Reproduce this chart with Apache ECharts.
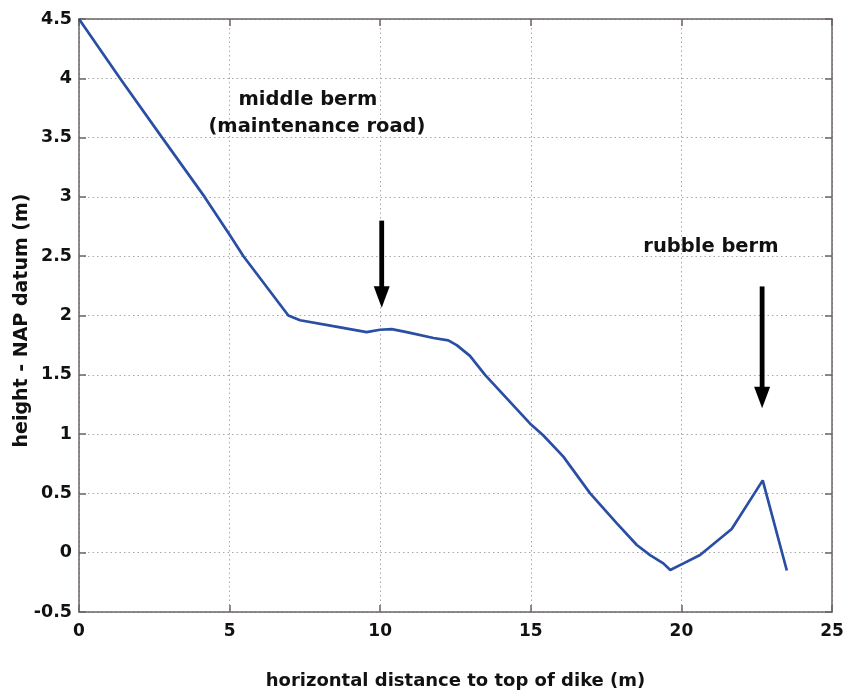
<!DOCTYPE html>
<html>
<head>
<meta charset="utf-8">
<script src="https://cdn.jsdelivr.net/npm/echarts@6/dist/echarts.min.js"></script>
<style>
  html, body { margin: 0; padding: 0; background: #fff; }
  #chart { width: 855px; height: 692px; }
</style>
</head>
<body>
<div id="chart"></div>
<script>
// Dike cross-section profile: horizontal distance (m) vs. height above NAP (m)
const distance = [0, 1.36, 2.76, 4.17, 5.0, 5.46, 6.95, 7.34, 8.44, 9.55, 9.99, 10.38, 10.88, 11.77, 12.26, 12.54, 12.98, 13.48, 14.97, 15.41, 16.08, 16.97, 17.85, 18.52, 18.96, 19.4, 19.63, 20.07, 20.62, 21.67, 22.7, 23.5];
const height = [4.5, 4.0, 3.5, 3.0, 2.68, 2.5, 2.0, 1.96, 1.91, 1.86, 1.88, 1.885, 1.86, 1.81, 1.79, 1.75, 1.66, 1.5, 1.09, 0.99, 0.81, 0.5, 0.25, 0.065, -0.02, -0.09, -0.146, -0.09, -0.02, 0.2, 0.61, -0.15];

const xTicks = [0, 5, 10, 15, 20, 25];
const yTicks = [-0.5, 0, 0.5, 1, 1.5, 2, 2.5, 3, 3.5, 4, 4.5];

// Annotation arrows pointing down at the berms: [x, yTail, yTip]
const arrowX = [10.05, 22.68];
const arrowTail = [2.80, 2.245];
const arrowTip = [2.065, 1.219];

// Annotation texts and their anchor positions (data coordinates)
const notes = ['middle berm', '(maintenance road)', 'rubble berm'];
const noteX = [7.60, 7.90, 20.98];
const noteY = [3.82, 3.59, 2.58];

const font = '"DejaVu Sans", Arial, sans-serif';
const axisColor = '#6e6464';
const gridStyle = { color: '#a8a8a8', type: [1.5, 3], width: 1 };

const profile = distance.map((d, i) => [d, height[i]]);
const arrowData = arrowX.map((x, i) => [x, arrowTail[i], arrowTip[i]]);

const chart = echarts.init(document.getElementById('chart'), null, { renderer: 'canvas' });

const boxAxis = {
  axisLine: { show: true, onZero: false, lineStyle: { color: axisColor, width: 1.5 } },
  axisTick: { show: true, inside: true, length: 7, lineStyle: { color: axisColor, width: 1.5 } }
};

chart.setOption({
  animation: false,
  backgroundColor: '#fff',
  grid: { left: 79, right: 23, top: 19, bottom: 80, containLabel: false, outerBoundsMode: 'none' },
  xAxis: [Object.assign({
    type: 'value',
    min: xTicks[0], max: xTicks[xTicks.length - 1], interval: 5,
    name: 'horizontal distance to top of dike (m)',
    nameLocation: 'middle', nameGap: 60, nameMoveOverlap: false,
    nameTextStyle: { fontFamily: font, fontWeight: 'bold', fontSize: 18, color: '#111' },
    axisLabel: { margin: 11, fontFamily: font, fontWeight: 'bold', fontSize: 17, color: '#111' },
    splitLine: { show: true, lineStyle: gridStyle }
  }, boxAxis), Object.assign({
    type: 'value', position: 'top',
    min: xTicks[0], max: xTicks[xTicks.length - 1], interval: 5,
    axisLabel: { show: false },
    splitLine: { show: false }
  }, boxAxis)],
  yAxis: [Object.assign({
    type: 'value',
    min: yTicks[0], max: yTicks[yTicks.length - 1], interval: 0.5,
    name: 'height - NAP datum (m)',
    nameLocation: 'middle', nameGap: 47, nameMoveOverlap: false,
    nameTextStyle: { fontFamily: font, fontWeight: 'bold', fontSize: 19, color: '#111', padding: [0, 10, 0, 0] },
    axisLabel: { margin: 7, fontFamily: font, fontWeight: 'bold', fontSize: 17.5, color: '#111' },
    splitLine: { show: true, lineStyle: gridStyle }
  }, boxAxis), Object.assign({
    type: 'value', position: 'right',
    min: yTicks[0], max: yTicks[yTicks.length - 1], interval: 0.5,
    axisLabel: { show: false },
    splitLine: { show: false }
  }, boxAxis)],
  series: [{
    type: 'line',
    data: profile,
    showSymbol: false,
    symbol: 'none',
    lineStyle: { color: '#2a4ea3', width: 2.7 },
    z: 3,
    markPoint: {
      symbol: 'circle', symbolSize: 0,
      label: {
        show: true, position: 'inside',
        fontFamily: font, fontWeight: 'bold', fontSize: 19.5, color: '#111',
        align: 'center', verticalAlign: 'middle',
        formatter: p => p.name
      },
      data: notes.map((t, i) => ({ name: t, coord: [noteX[i], noteY[i]] }))
    }
  }, {
    // Downward arrows: shaft plus filled triangular head ending at the tip
    type: 'custom',
    data: arrowData,
    z: 4,
    silent: true,
    renderItem: (params, api) => {
      const x = api.value(0);
      const tail = api.coord([x, api.value(1)]);
      const tip = api.coord([x, api.value(2)]);
      const headH = 21.5, headW = 8;
      return {
        type: 'group',
        children: [{
          type: 'line',
          shape: { x1: tail[0], y1: tail[1], x2: tip[0], y2: tip[1] - headH + 1 },
          style: { stroke: '#000', lineWidth: 4.8 }
        }, {
          type: 'polygon',
          shape: { points: [[tip[0] - headW, tip[1] - headH], [tip[0] + headW, tip[1] - headH], [tip[0], tip[1]]] },
          style: { fill: '#000' }
        }]
      };
    }
  }]
});
</script>
</body>
</html>
